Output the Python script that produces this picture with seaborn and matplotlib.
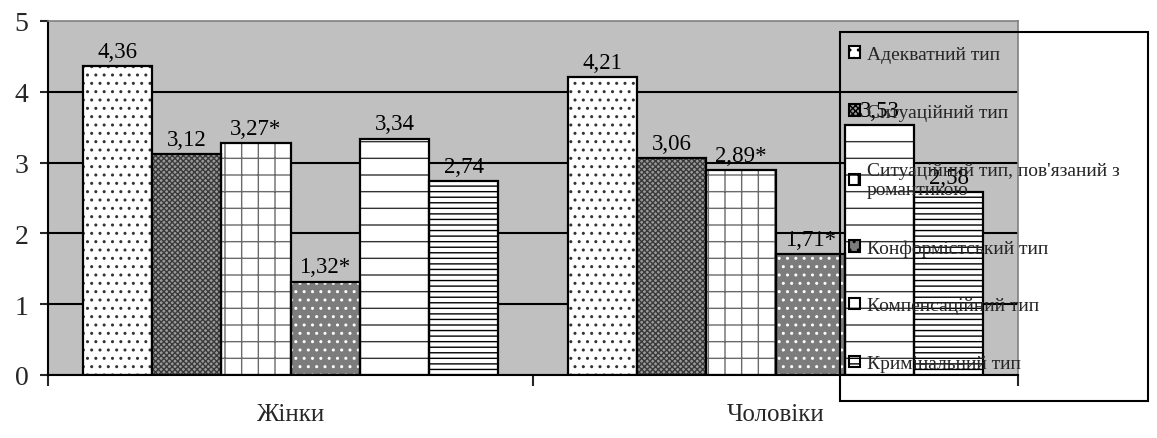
import matplotlib
matplotlib.use("Agg")
import matplotlib.pyplot as plt
import seaborn as sns
import pandas as pd
from matplotlib.patches import Rectangle, Patch

# --- data ---
groups = ["Жінки", "Чоловіки"]
types = [
    "Адекватний тип",
    "Ситуаційний тип",
    "Ситуаційний тип, пов'язаний з\nромантикою",
    "Конформістський тип",
    "Компенсаційний тип",
    "Кримінальний тип",
]
women = [4.36, 3.12, 3.27, 1.32, 3.34, 2.74]
men = [4.21, 3.06, 2.89, 1.71, 3.53, 2.58]
women_text = ["4,36", "3,12", "3,27*", "1,32*", "3,34", "2,74"]
men_text = ["4,21", "3,06", "2,89*", "1,71*", "3,53", "2,58"]

# стилі стовпців: заливка, штрихування, колір штриха
styles = [
    ("white", "..", "#333333"),
    ("#9a9a9a", "xxxxxx", "#3a3a3a"),
    ("white", "+", "#6a6a6a"),
    ("#7c7c7c", "..", "white"),
    ("white", "-", "#333333"),
    ("white", "---", "black"),
]

rows = []
for g, vals in zip(groups, [women, men]):
    for t, v in zip(types, vals):
        rows.append({"Group": g, "Type": t, "Value": v})
df = pd.DataFrame(rows)

sns.set_style("white")
plt.rcParams["font.family"] = ["Liberation Serif", "DejaVu Serif"]
plt.rcParams["hatch.linewidth"] = 1.0

W, H = 1157, 439
fig = plt.figure(figsize=(W / 100, H / 100), dpi=100)
ax = fig.add_axes([48 / W, 1 - 376 / H, 970 / W, 354 / H])
ax.set_facecolor("#c0c0c0")

sns.barplot(data=df, x="Group", y="Value", hue="Type", hue_order=types,
            order=groups, width=0.857, gap=0, ax=ax, legend=False)

for i, cont in enumerate(ax.containers):
    face, hatch, hcol = styles[i]
    for p in cont:
        p.set_facecolor(face)
        p.set_edgecolor(hcol)
        p.set_hatch(hatch)
        p.set_linewidth(0)
        p.set_zorder(2)
        ax.add_patch(Rectangle((p.get_x(), p.get_y()), p.get_width(), p.get_height(),
                               fill=False, edgecolor="black", lw=1.6, zorder=2.5))
    ax.bar_label(cont, labels=[women_text[i], men_text[i]], padding=3,
                 fontsize=16.5, color="black", zorder=3)

ax.set_xlim(-0.5, 1.5)
ax.set_ylim(0, 5)
ax.set_yticks([0, 1, 2, 3, 4, 5])
ax.set_yticklabels(["0", "1", "2", "3", "4", "5"], fontsize=20)
ax.tick_params(axis="y", direction="out", length=6, width=1.5, pad=8, left=True)

ax.set_xticks([-0.5, 0.5, 1.5])
ax.set_xticklabels([])
ax.set_xticks([0, 1], minor=True)
ax.set_xticklabels(groups, minor=True, fontsize=18)
ax.tick_params(axis="x", which="major", direction="out", length=8, width=1.5, bottom=True)
ax.tick_params(axis="x", which="minor", length=0, pad=20)
ax.set_xlabel("")
ax.set_ylabel("")

ax.set_axisbelow(True)
ax.yaxis.grid(True, color="black", lw=1.5)
ax.get_ygridlines()[-1].set_visible(False)

for s in ["left", "bottom"]:
    ax.spines[s].set_color("black")
    ax.spines[s].set_linewidth(1.5)
for s in ["top", "right"]:
    ax.spines[s].set_color("#808080")
    ax.spines[s].set_linewidth(1.2)

# легенда
handles = [Patch(facecolor=f, hatch=h, edgecolor="black", lw=1.5) for f, h, _ in styles]
fig.legend(handles, types, loc="upper left",
           bbox_to_anchor=(849 / W, 1 - 47 / H), frameon=False, fontsize=14,
           handlelength=0.55, handleheight=0.55, handletextpad=0.35,
           labelspacing=2.1, borderpad=0, borderaxespad=0)
fig.add_artist(Rectangle((840 / W, 1 - 402 / H), 308 / W, 369 / H,
                         transform=fig.transFigure, fill=False,
                         edgecolor="black", lw=1.5))

fig.savefig("out.png", dpi=100)
